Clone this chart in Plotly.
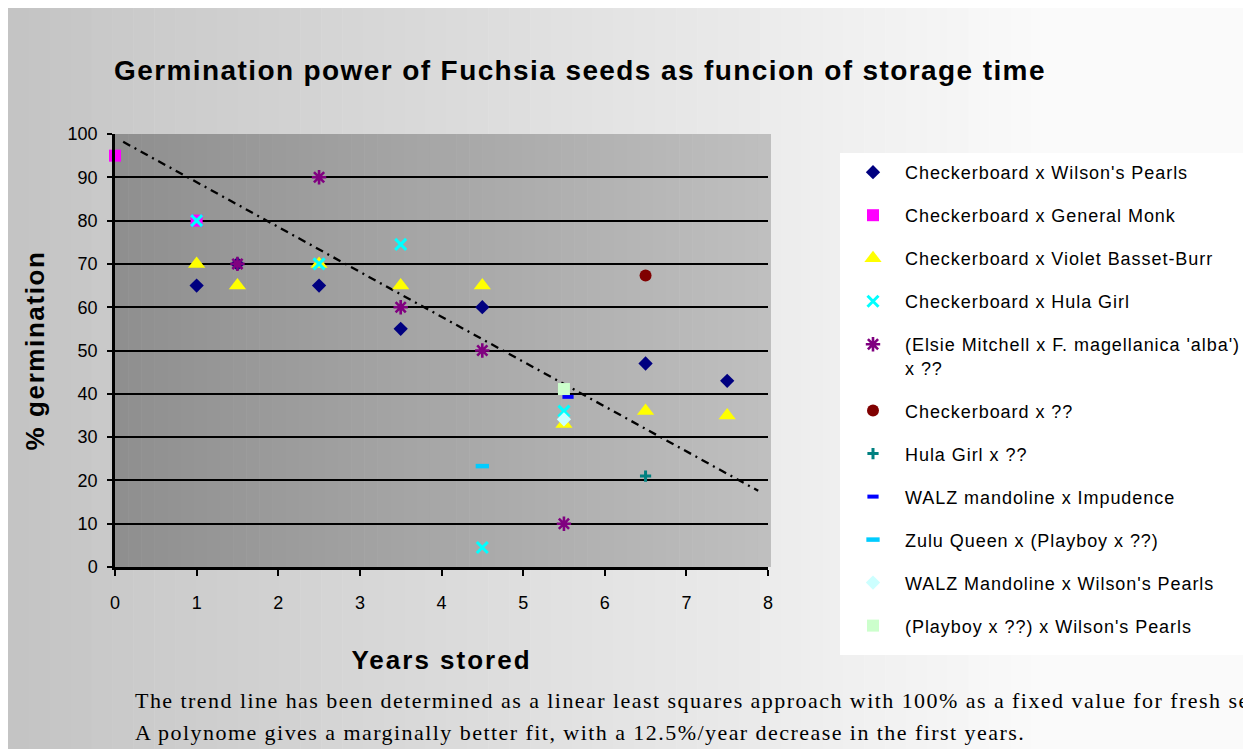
import plotly.graph_objects as go

# ---------------- data ----------------
series_names = [
    "Checkerboard x Wilson's Pearls",
    "Checkerboard x General Monk",
    "Checkerboard x Violet Basset-Burr",
    "Checkerboard x Hula Girl",
    "(Elsie Mitchell x F. magellanica 'alba')<br>x ??",
    "Checkerboard x ??",
    "Hula Girl x ??",
    "WALZ mandoline x Impudence",
    "Zulu Queen x (Playboy x ??)",
    "WALZ Mandoline x Wilson's Pearls",
    "(Playboy x ??) x Wilson's Pearls",
]
x_wilson = [1, 1.5, 2.5, 3.5, 4.5, 6.5, 7.5]
y_wilson = [65, 70, 65, 55, 60, 47, 43]
x_monk = [0, 1]
y_monk = [95, 80]
x_violet = [1, 1.5, 2.5, 3.5, 4.5, 5.5, 6.5, 7.5]
y_violet = [70, 65, 70, 65, 65, 33, 36, 35]
x_hula = [1, 2.5, 3.5, 4.5, 5.5]
y_hula = [80, 70, 74.5, 4.5, 36]
x_elsie = [1.5, 2.5, 3.5, 4.5, 5.5]
y_elsie = [70, 90, 60, 50, 10]
x_cbq = [6.5]
y_cbq = [67.3]
x_hgq = [6.5]
y_hgq = [21]
x_walz_imp = [5.55]
y_walz_imp = [39.3]
x_zulu = [4.5]
y_zulu = [23.3]
x_walz_wp = [5.5]
y_walz_wp = [34.1]
x_playboy = [5.5]
y_playboy = [41.1]
trend_x = [0.1, 7.88]
trend_y = [98.2, 17.6]

x_ticks = [0, 1, 2, 3, 4, 5, 6, 7, 8]
y_ticks = [0, 10, 20, 30, 40, 50, 60, 70, 80, 90, 100]

# ---------------- geometry helpers ----------------
W, H = 1251, 749
O = 8  # page body margin offset
PL, PR, PT, PB = 115, 768, 134, 567  # plot area in screen pixels


def px_x(p):
    return (p - PL) / (PR - PL)


def px_y(p):
    return (PB - p) / (PB - PT)


def ls(text, sp):
    return '<span style="letter-spacing:%spx">%s</span>' % (sp, text)


fig = go.Figure()

# trend line
fig.add_trace(go.Scatter(
    x=trend_x, y=trend_y, mode="lines", showlegend=False, hoverinfo="skip",
    line=dict(color="black", width=2.3, dash="8px,5px,2px,5px")))

styles = [
    dict(symbol="diamond", size=11, color="#000080"),
    dict(symbol="square", size=12, color="#ff00ff"),
    dict(symbol="triangle-up", size=15, color="#ffff00"),
    dict(symbol="x-thin-open", size=11, color="#00ffff", line=dict(width=3, color="#00ffff")),
    dict(symbol="asterisk-open", size=12, color="#800080", line=dict(width=2.6, color="#800080")),
    dict(symbol="circle", size=12, color="#800000"),
    dict(symbol="cross-thin-open", size=8, color="#008080", line=dict(width=3, color="#008080")),
    dict(symbol="line-ew-open", size=8, color="#0000ff", line=dict(width=4, color="#0000ff")),
    dict(symbol="line-ew-open", size=9.5, color="#00ccff", line=dict(width=4.5, color="#00ccff")),
    dict(symbol="diamond", size=11, color="#ccffff"),
    dict(symbol="square", size=12, color="#ccffcc"),
]
xs = [x_wilson, x_monk, x_violet, x_hula, x_elsie, x_cbq, x_hgq, x_walz_imp, x_zulu, x_walz_wp, x_playboy]
ys = [y_wilson, y_monk, y_violet, y_hula, y_elsie, y_cbq, y_hgq, y_walz_imp, y_zulu, y_walz_wp, y_playboy]

for i, (name, x, y, st) in enumerate(zip(series_names, xs, ys, styles)):
    marker = dict(symbol=st["symbol"], size=st["size"], color=st["color"])
    marker["line"] = st.get("line", dict(width=0))
    fig.add_trace(go.Scatter(x=x, y=y, mode="markers", name=ls(name, 0.95),
                             legendgroup="g%d" % i, marker=marker, cliponaxis=False))

# ---------------- background gradients (shapes) ----------------
shapes = []
n = 60
x0p, x1p = O, W + O + 2
for k in range(n):
    a = x0p + (x1p - x0p) * k / n
    b = x0p + (x1p - x0p) * (k + 1) / n + 0.5
    mid = (a + b) / 2
    g = int(min(196 + 0.0524 * (mid - 6), 250))
    shapes.append(dict(type="rect", xref="paper", yref="paper", layer="below",
                       x0=px_x(a), x1=px_x(b), y0=px_y(H + O + 2), y1=px_y(O),
                       fillcolor="rgb(%d,%d,%d)" % (g, g, g), line=dict(width=0)))
n2 = 50
a0, a1 = PL, 771
for k in range(n2):
    a = a0 + (a1 - a0) * k / n2
    b = a0 + (a1 - a0) * (k + 1) / n2 + 0.5
    g = int(143 + (192 - 143) * (k + 0.5) / n2)
    shapes.append(dict(type="rect", xref="paper", yref="paper", layer="below",
                       x0=px_x(a), x1=px_x(min(b, a1)), y0=0, y1=1,
                       fillcolor="rgb(%d,%d,%d)" % (g, g, g), line=dict(width=0)))
shapes.append(dict(type="rect", xref="paper", yref="paper", layer="below",
                   x0=px_x(840), x1=px_x(1270), y0=px_y(655), y1=px_y(153),
                   fillcolor="white", line=dict(width=0)))

serif = dict(family="Liberation Serif", size=22, color="black")
annotations = [
    dict(text=ls("The trend line has been determined as a linear least squares approach with 100% as a fixed value for fresh seeds.", 1.45),
         xref="paper", yref="paper", x=px_x(133), y=px_y(700), xanchor="left", yanchor="middle",
         showarrow=False, font=serif),
    dict(text=ls("A polynome gives a marginally better fit, with a 12.5%/year decrease in the first years.", 1.45),
         xref="paper", yref="paper", x=px_x(133), y=px_y(732), xanchor="left", yanchor="middle",
         showarrow=False, font=serif),
]

fig.update_layout(
    width=W, height=H,
    margin=dict(l=PL - O, r=W - (PR - O), t=PT - O, b=H - (PB - O), autoexpand=False),
    paper_bgcolor="white", plot_bgcolor="rgba(0,0,0,0)",
    font=dict(family="Liberation Sans", color="black"),
    title=dict(text=ls("<b>Germination power of Fuchsia seeds as funcion of storage time</b>", 1.4),
               x=(580 - O) / W, xanchor="center", y=1 - (70 - O) / H, yanchor="middle",
               xref="container", yref="container",
               font=dict(family="Liberation Sans", size=28, color="black")),
    shapes=shapes, annotations=annotations,
    showlegend=True,
    legend=dict(x=px_x(841), y=px_y(154), xanchor="left", yanchor="top",
                bgcolor="rgba(0,0,0,0)", borderwidth=0, tracegroupgap=16.6,
                valign="top", itemwidth=54, maxheight=620,
                font=dict(family="Liberation Sans", size=18, color="black")),
    xaxis=dict(range=[0, 8], tickvals=x_ticks, ticktext=[str(v) for v in x_ticks],
               showgrid=False, zeroline=False, showline=True, linecolor="black", linewidth=2.5,
               ticks="outside", ticklen=6, tickwidth=2, tickcolor="black",
               ticklabelstandoff=12,
               tickfont=dict(size=18, color="black"),
               title=dict(text=ls("<b>Years stored</b>", 2.0), standoff=39,
                          font=dict(size=26, color="black"))),
    yaxis=dict(range=[0, 100], tickvals=y_ticks, ticktext=[str(v) for v in y_ticks],
               showgrid=True, gridcolor="black", gridwidth=1.5,
               zeroline=False, showline=True, linecolor="black", linewidth=2.5,
               ticks="outside", ticklen=5, tickwidth=2, tickcolor="black",
               ticklabelstandoff=6,
               tickfont=dict(size=18, color="black"),
               title=dict(text=ls("<b>% germination</b>", 1.6), standoff=16,
                          font=dict(size=26, color="black"))),
)

fig.write_html("out.html")
